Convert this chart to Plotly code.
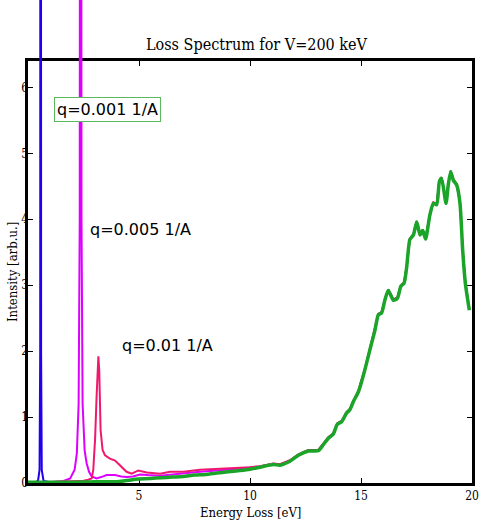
import plotly.graph_objects as go

# ---- data ----
green_x = [0, 0.5, 1, 1.5, 2, 2.5, 3, 3.5, 4, 4.3, 4.5, 4.7, 5.0, 5.5, 6.0, 6.5, 7.0, 7.5, 8.0, 8.5,
           9.0, 9.55, 10.0, 10.45, 11.05, 11.35, 11.8, 12.18, 12.63, 13.08, 13.3, 13.53, 13.75, 13.93,
           14.13, 14.35, 14.5, 14.65, 14.88, 15.03, 15.2, 15.4, 15.63, 15.78, 15.93, 16.08, 16.23,
           16.46, 16.64, 16.79, 16.94, 17.06, 17.2, 17.36, 17.51, 17.66, 17.78, 17.91, 18.1, 18.26,
           18.41, 18.53, 18.63, 18.83, 18.93, 19.04, 19.16, 19.31, 19.46, 19.58, 19.70, 19.88]
green_y = [0.01, 0.01, 0.01, 0.01, 0.01, 0.015, 0.02, 0.02, 0.02, 0.03, 0.04, 0.05, 0.06, 0.07, 0.08,
           0.09, 0.10, 0.12, 0.13, 0.15, 0.17, 0.19, 0.21, 0.24, 0.28, 0.27, 0.33, 0.42, 0.485, 0.49,
           0.58, 0.68, 0.74, 0.89, 0.93, 1.06, 1.11, 1.23, 1.38, 1.54, 1.75, 2.02, 2.32, 2.55, 2.58,
           2.78, 2.92, 2.77, 2.80, 2.98, 3.03, 3.28, 3.69, 3.76, 3.96, 3.76, 3.83, 3.70, 4.06, 4.24,
           4.22, 4.57, 4.62, 4.24, 4.52, 4.72, 4.59, 4.52, 4.24, 3.53, 3.03, 2.62]

blue_x = [0, 0.3, 0.45, 0.52, 0.55, 0.57, 0.59, 0.62, 0.7, 1.0, 2.0, 3.0, 4.0]
blue_y = [0.005, 0.01, 0.03, 0.2, 2.0, 40, 2.0, 0.2, 0.03, 0.01, 0.005, 0.005, 0.005]

magenta_x = [0, 1.0, 1.6, 1.9, 2.1, 2.2, 2.28, 2.33, 2.37, 2.41, 2.46, 2.55, 2.64, 2.75, 2.87, 3.09,
             3.3, 3.54, 3.68, 3.92, 4.2, 4.45, 4.73, 5.04, 5.4, 5.95, 6.5, 7.0, 7.75, 8.5, 9.25, 10.0]
magenta_y = [0.005, 0.01, 0.03, 0.07, 0.2, 0.45, 1.2, 4.0, 30, 4.0, 1.2, 0.5, 0.3, 0.17, 0.1, 0.07,
             0.09, 0.12, 0.12, 0.12, 0.10, 0.09, 0.10, 0.13, 0.12, 0.11, 0.13, 0.15, 0.17, 0.19, 0.21, 0.23]

pink_x = [0, 2.0, 2.5, 2.72, 2.87, 2.94, 3.02, 3.09, 3.14, 3.17, 3.21, 3.24, 3.27, 3.36, 3.47, 3.69,
          3.92, 4.14, 4.44, 4.67, 4.97, 5.35, 5.95, 6.4, 7.0, 7.75, 8.5, 9.25, 10.0]
pink_y = [0.005, 0.02, 0.035, 0.05, 0.07, 0.2, 0.65, 1.31, 1.85, 1.92, 1.7, 1.31, 0.8, 0.5, 0.42, 0.37,
          0.34, 0.27, 0.17, 0.14, 0.19, 0.16, 0.14, 0.17, 0.17, 0.20, 0.21, 0.22, 0.24]

# at high energy loss the spectra coincide with the green one
tail = [(x, y) for x, y in zip(green_x, green_y) if x > 10]
magenta_x = magenta_x + [t[0] for t in tail]
magenta_y = magenta_y + [t[1] + 0.01 for t in tail]
pink_x = pink_x + [t[0] for t in tail]
pink_y = pink_y + [t[1] + 0.015 for t in tail]

x_ticks = [5, 10, 15, 20]
y_ticks = [0, 1, 2, 3, 4, 5, 6]
title = "Loss Spectrum for V=200 keV"
labels = ["q=0.001 1/A", "q=0.005 1/A", "q=0.01 1/A"]

# ---- layout geometry ----
W, H = 480, 521
ML, MR, MT, MB = 28, 8, 0, 38
PW = W - ML - MR
plot_h = H - MT - MB
frame_top_px = 61
y_max = 6.4
dom_top = (plot_h - frame_top_px) / plot_h
y2_max = y_max / dom_top

SERIF = "DejaVu Serif Condensed, DejaVu Serif, serif"
SANS = "DejaVu Sans, sans-serif"

fig = go.Figure()
for xs, ys, col, w, shp in [(blue_x, blue_y, "#2200ee", 2, "linear"),
                            (magenta_x, magenta_y, "#dd00ff", 2, "linear"),
                            (pink_x, pink_y, "#f0186e", 2, "linear"),
                            (green_x, green_y, "#1aa528", 3.5, "spline")]:
    fig.add_trace(go.Scatter(x=xs, y=ys, mode="lines", xaxis="x", yaxis="y2",
                             line=dict(color=col, width=w, shape=shp, smoothing=0.6),
                             showlegend=False, hoverinfo="skip"))

tickfont = dict(family=SERIF, size=12, color="black")
fig.update_layout(
    width=W, height=H,
    margin=dict(l=ML, r=MR, t=MT, b=MB, pad=0),
    paper_bgcolor="white", plot_bgcolor="rgba(0,0,0,0)",
    xaxis=dict(range=[0, 20], anchor="y", tickvals=x_ticks, ticktext=[str(v) for v in x_ticks],
               ticks="inside", ticklen=5, tickwidth=1, tickcolor="black",
               showline=True, linewidth=2.5, linecolor="black", mirror="ticks",
               showgrid=False, zeroline=False, tickfont=tickfont),
    yaxis=dict(range=[0, y_max], domain=[0, dom_top], anchor="x", tickvals=y_ticks,
               ticks="inside", ticklen=5, tickwidth=1, tickcolor="black",
               showline=True, linewidth=2.5, linecolor="black", mirror="ticks",
               showgrid=False, zeroline=False, showticklabels=False),
    yaxis2=dict(range=[0, y2_max], domain=[0, 1], anchor="x", visible=False,
                showgrid=False, zeroline=False),
    # tick-label-only axis placed right at the frame so labels sit close to it
    yaxis3=dict(range=[0, y_max], overlaying="y", anchor="free", position=0, side="left",
                tickvals=y_ticks, ticks="", showline=False, showgrid=False, zeroline=False,
                tickfont=tickfont),
)
fig.add_trace(go.Scatter(x=[None], y=[None], xaxis="x", yaxis="y3", showlegend=False,
                         hoverinfo="skip"))

ann = []
ann.append(dict(text=title, xref="paper", yref="paper", x=(257 - ML) / PW,
                y=(plot_h - 44) / plot_h, xanchor="center", yanchor="middle", showarrow=False,
                font=dict(family=SERIF, size=16, color="black")))
ann.append(dict(text="Energy Loss [eV]", xref="paper", yref="paper", x=0.5,
                y=(plot_h - 512) / plot_h, xanchor="center", yanchor="middle", showarrow=False,
                font=dict(family=SERIF, size=13, color="black")))
ann.append(dict(text="Intensity [arb.u.]", xref="paper", yref="paper", x=(12 - ML) / PW,
                y=(plot_h - 272) / plot_h, xanchor="center", yanchor="middle", showarrow=False,
                textangle=-90, font=dict(family=SERIF, size=13, color="black")))
ann.append(dict(text=labels[0], xref="x", yref="y", x=3.6, y=5.67, xanchor="center", yanchor="middle",
                showarrow=False, bordercolor="#5cb85c", borderwidth=1, borderpad=2, bgcolor="white",
                font=dict(family=SANS, size=16, color="black")))
ann.append(dict(text=labels[1], xref="x", yref="y", x=2.7, y=3.84, xanchor="left", yanchor="middle",
                showarrow=False, font=dict(family=SANS, size=16, color="black")))
ann.append(dict(text=labels[2], xref="x", yref="y", x=4.14, y=2.09, xanchor="left", yanchor="middle",
                showarrow=False, font=dict(family=SANS, size=16, color="black")))
fig.update_layout(annotations=ann)

fig.write_html("out.html")
